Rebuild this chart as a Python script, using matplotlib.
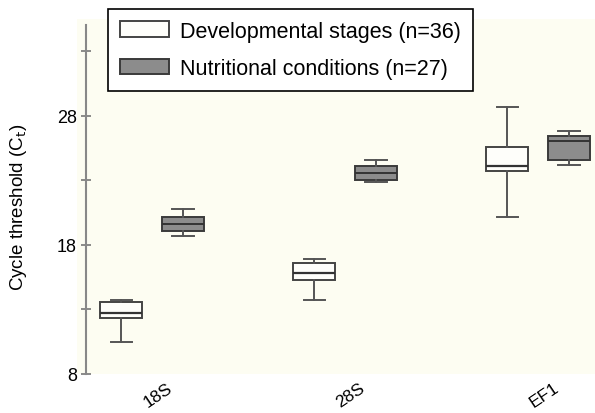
import matplotlib.pyplot as plt
import numpy as np

plt.rcParams['font.family'] = ['Liberation Sans', 'DejaVu Sans']

genes = ['18S', '28S', 'EF1']

# box statistics: whisker low, q1, median, q3, whisker high
dev_low = [10.5, 13.7, 20.2]
dev_q1 = [12.35, 15.3, 23.7]
dev_med = [12.75, 15.85, 24.1]
dev_q3 = [13.6, 16.6, 25.6]
dev_high = [13.7, 16.9, 28.7]

nut_low = [18.7, 22.9, 24.2]
nut_q1 = [19.1, 23.05, 24.6]
nut_med = [19.65, 23.6, 26.05]
nut_q3 = [20.15, 24.1, 26.45]
nut_high = [20.8, 24.6, 26.8]


def make_stats(low, q1, med, q3, high):
    return [
        {'whislo': a, 'q1': b, 'med': c, 'q3': d, 'whishi': e, 'fliers': []}
        for a, b, c, d, e in zip(low, q1, med, q3, high)
    ]


fig = plt.figure(figsize=(5.95, 4.14), dpi=100)
ax = fig.add_axes([77 / 595, 39 / 414, 518 / 595, 355 / 414])
ax.set_facecolor('#fdfdf2')

x = np.arange(len(genes))
offset = 0.16
width = 0.22

dev = ax.bxp(
    make_stats(dev_low, dev_q1, dev_med, dev_q3, dev_high),
    positions=x - offset, widths=width, patch_artist=True,
    boxprops={'facecolor': '#fefefa', 'edgecolor': '#444444', 'linewidth': 1.4},
    medianprops={'color': '#333333', 'linewidth': 1.6},
    whiskerprops={'color': '#555555', 'linewidth': 1.4},
    capprops={'color': '#555555', 'linewidth': 1.4},
)
nut = ax.bxp(
    make_stats(nut_low, nut_q1, nut_med, nut_q3, nut_high),
    positions=x + offset, widths=width, patch_artist=True,
    boxprops={'facecolor': '#8c8c8c', 'edgecolor': '#3a3a3a', 'linewidth': 1.4},
    medianprops={'color': '#333333', 'linewidth': 1.4},
    whiskerprops={'color': '#555555', 'linewidth': 1.4},
    capprops={'color': '#555555', 'linewidth': 1.4},
)

ax.set_xlim(-0.389, 2.295)
ax.set_ylim(8, 35.5)

for side in ['top', 'right', 'bottom']:
    ax.spines[side].set_visible(False)
ax.spines['left'].set_position(('axes', 0.0174))
ax.spines['left'].set_bounds(8, 35)
ax.spines['left'].set_color('#888888')
ax.spines['left'].set_linewidth(1.5)

ax.set_yticks([8, 18, 28])
ax.set_yticks([13, 23, 33], minor=True)
ax.tick_params(axis='y', which='both', direction='inout', length=7,
               color='#777777', width=1.2, labelsize=13, pad=3)

ax.set_xticks(x + 0.03)
ax.set_xticklabels(genes, rotation=34, ha='center', fontsize=12.5)
ax.tick_params(axis='x', length=0, pad=4)

fig.text(19 / 595, 0.5, 'Cycle threshold (C$_\\mathrm{t}$)', rotation=90,
         ha='center', va='center', fontsize=13.5)

leg = fig.legend(
    [dev['boxes'][0], nut['boxes'][0]],
    ['Developmental stages (n=36)', 'Nutritional conditions (n=27)'],
    loc='upper left', bbox_to_anchor=(108 / 595, 1 - 10 / 414),
    fontsize=15.5, frameon=True, fancybox=False, edgecolor='black',
    framealpha=1, handlelength=2.3, handleheight=0.75, borderpad=0.55,
    labelspacing=0.75, handletextpad=0.5, borderaxespad=0,
)
leg.get_frame().set_linewidth(1.2)

fig.savefig('out.png', dpi=100)
